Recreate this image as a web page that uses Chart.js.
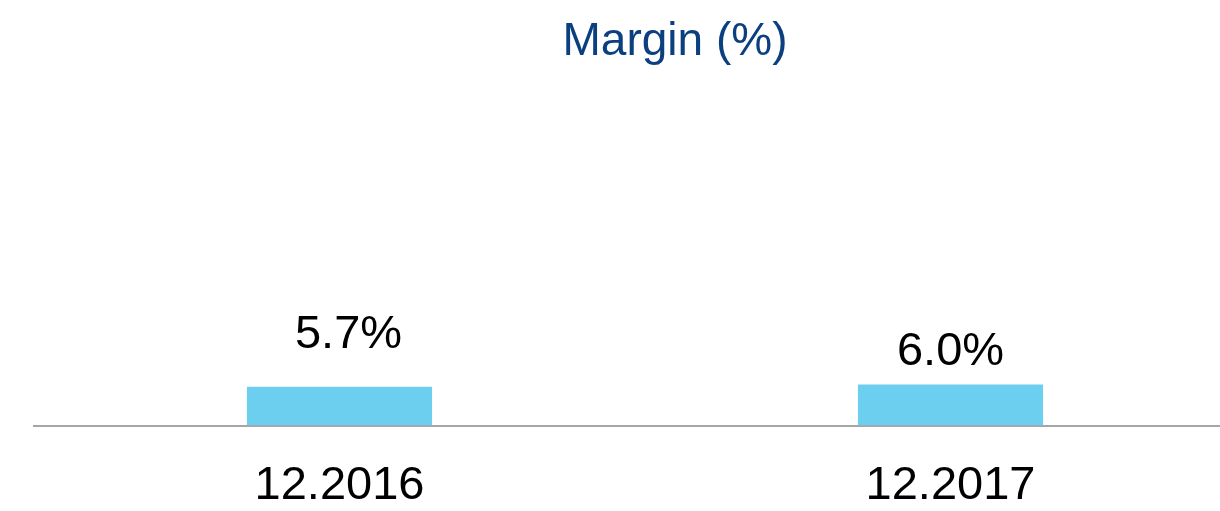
<!DOCTYPE html>
<html>
<head>
<meta charset="utf-8">
<title>Margin (%)</title>
<script src="https://cdn.jsdelivr.net/npm/chart.js@4"></script>
<style>
    html, body { margin: 0; padding: 0; background: #fff; overflow: hidden; }
    #wrap { position: relative; width: 1260px; height: 511px; }
</style>
</head>
<body>
<div id="wrap"><canvas id="marginChart" width="1260" height="511"></canvas></div>
<script>
// 数据
const periods = ['12.2016', '12.2017']
const margins = [5.7, 6.0]
const titleText = 'Margin (%)'

const FONT = "'Liberation Sans', Arial, sans-serif"
const BAR_COLOR = '#6DCFEF'
const TITLE_COLOR = '#0B3F80'
const AXIS_COLOR = '#A6A6A6'

// 数值标签相对柱顶的位置（像素）
const labelLift = [39, 20]
const labelShift = [9, 0]

// 标题（画在图表区中线偏右）
const titleDraw = {
    id: 'titleDraw',
    afterDraw(chart) {
        const { ctx, chartArea } = chart
        ctx.save()
        ctx.font = `46px ${FONT}`
        ctx.fillStyle = TITLE_COLOR
        ctx.textAlign = 'center'
        ctx.textBaseline = 'alphabetic'
        ctx.fillText(titleText, (chartArea.left + chartArea.right) / 2 + 30, 55)
        ctx.restore()
    }
}

// 柱顶数值
const valueLabels = {
    id: 'valueLabels',
    afterDatasetsDraw(chart) {
        const { ctx } = chart
        const meta = chart.getDatasetMeta(0)
        ctx.save()
        ctx.font = `47px ${FONT}`
        ctx.fillStyle = '#000'
        ctx.textAlign = 'center'
        ctx.textBaseline = 'alphabetic'
        meta.data.forEach((bar, i) => {
            const v = chart.data.datasets[0].data[i]
            ctx.fillText(v.toFixed(1) + '%', bar.x + labelShift[i], bar.y - labelLift[i])
        })
        ctx.restore()
    }
}

new Chart(document.getElementById('marginChart'), {
    type: 'bar',
    data: {
        labels: periods,
        datasets: [{
            data: margins,
            backgroundColor: BAR_COLOR,
            borderWidth: 0,
            barPercentage: 0.303,
            categoryPercentage: 1,
        }]
    },
    options: {
        responsive: false,
        animation: false,
        events: [],
        layout: { padding: { left: 34, right: 4, top: 84, bottom: -35 } },
        plugins: {
            legend: { display: false },
            tooltip: { enabled: false },
            title: { display: false },
        },
        scales: {
            x: {
                grid: { display: false, drawTicks: false },
                border: { display: true, color: AXIS_COLOR, width: 2 },
                ticks: {
                    color: '#000',
                    font: { family: FONT, size: 47 },
                    padding: 32,
                },
            },
            y: {
                display: false,
                min: 0,
                max: 50,
            }
        }
    },
    plugins: [titleDraw, valueLabels]
})
</script>
</body>
</html>
